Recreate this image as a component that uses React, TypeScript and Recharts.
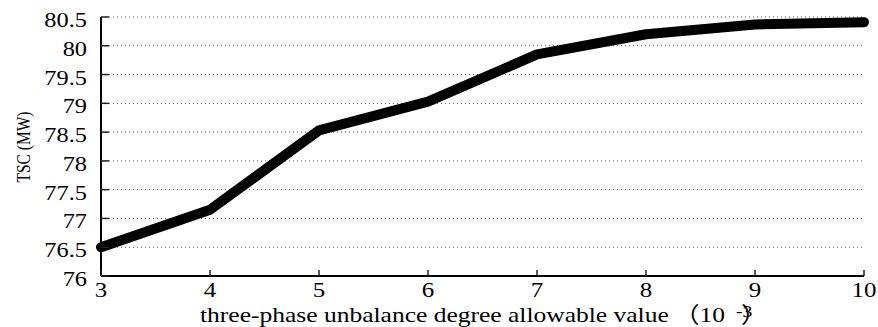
import { LineChart, Line, XAxis, YAxis, CartesianGrid } from "recharts";

// allowable three-phase unbalance degree (x10^-3) vs total supply capability
const limits = [3, 4, 5, 6, 7, 8, 9, 10];
const tscValues = [76.5, 77.15, 78.53, 79.03, 79.85, 80.2, 80.37, 80.41];
const yTicks = [76, 76.5, 77, 77.5, 78, 78.5, 79, 79.5, 80, 80.5];

const data = limits.map((limit, i) => ({ limit, tsc: tscValues[i] }));

const FONT = "'Liberation Serif', 'Times New Roman', 'DejaVu Serif', 'Noto Sans CJK SC', serif";
const SX = 1.16; // text is drawn a bit wide
const TICK_COLOR = "#222";
const txt = { fontFamily: FONT, fill: "#000" };

function BottomTick({ x, y, payload }: any) {
  return (
    <g>
      <line x1={x} x2={x} y1={y} y2={y - 6} stroke={TICK_COLOR} strokeWidth={1.5} />
      <text transform={`translate(${x},${y + 21}) scale(${SX},1)`} textAnchor="middle" fontSize={21.5} style={txt}>
        {payload.value}
      </text>
    </g>
  );
}

function TopTick({ x, y }: any) {
  return <line x1={x} x2={x} y1={y} y2={y + 6} stroke={TICK_COLOR} strokeWidth={1.5} />;
}

function LeftTick({ x, y, payload }: any) {
  return (
    <g>
      <line x1={x} x2={x + 8} y1={y} y2={y} stroke={TICK_COLOR} strokeWidth={1.5} />
      <text transform={`translate(${x - 14},${y + 10}) scale(${SX},1)`} textAnchor="end" fontSize={21} style={txt}>
        {payload.value}
      </text>
    </g>
  );
}

function RightTick({ x, y }: any) {
  return <line x1={x} x2={x - 8} y1={y} y2={y} stroke={TICK_COLOR} strokeWidth={1.5} />;
}

function XTitle() {
  return (
    <g>
      <text transform={`translate(200,322) scale(${SX},1)`} fontSize={22} style={txt}>
        three-phase unbalance degree allowable value
      </text>
      <text transform={`translate(674,322) scale(${SX},1)`} fontSize={22} style={txt}>（10</text>
      <text transform={`translate(736,317) scale(${SX},1)`} fontSize={17} style={txt}>-3</text>
      <text transform={`translate(741,322) scale(${SX},1)`} fontSize={22} style={txt}>）</text>
    </g>
  );
}

function YTitle() {
  return (
    <text transform={`translate(30,147) scale(${SX},1) rotate(-90)`} textAnchor="middle" fontSize={15.5} style={txt}>
      TSC (MW)
    </text>
  );
}

export default function App() {
  return (
    <div style={{ position: "absolute", left: 0, top: 0, background: "#fff" }}>
      <LineChart width={878} height={327} data={data} margin={{ top: 17, right: 14, bottom: 0, left: 0 }}>
        <CartesianGrid vertical={false} stroke="#555" strokeDasharray="1 3" />
        <XAxis
          dataKey="limit"
          type="number"
          domain={[3, 10]}
          ticks={limits}
          interval={0}
          height={51}
          tickSize={0}
          tickMargin={0}
          tickLine={false}
          axisLine={{ stroke: "#000", strokeWidth: 2 }}
          tick={<BottomTick />}
          label={() => <XTitle />}
        />
        <XAxis
          xAxisId="top"
          orientation="top"
          dataKey="limit"
          type="number"
          domain={[3, 10]}
          ticks={limits}
          interval={0}
          height={0}
          tickSize={0}
          tickMargin={0}
          tickLine={false}
          axisLine={{ stroke: "#000", strokeWidth: 2 }}
          tick={<TopTick />}
        />
        <YAxis
          type="number"
          domain={[76, 80.5]}
          ticks={yTicks}
          interval={0}
          width={101}
          tickSize={0}
          tickMargin={0}
          tickLine={false}
          axisLine={{ stroke: "#000", strokeWidth: 2 }}
          tick={<LeftTick />}
          label={() => <YTitle />}
        />
        <YAxis
          yAxisId="right"
          orientation="right"
          type="number"
          domain={[76, 80.5]}
          ticks={yTicks}
          interval={0}
          width={0}
          tickSize={0}
          tickMargin={0}
          tickLine={false}
          axisLine={{ stroke: "#000", strokeWidth: 2 }}
          tick={<RightTick />}
        />
        <Line
          type="linear"
          dataKey="tsc"
          stroke="#000"
          strokeWidth={10}
          strokeLinecap="round"
          strokeLinejoin="round"
          dot={false}
          activeDot={false}
          isAnimationActive={false}
        />
      </LineChart>
    </div>
  );
}
